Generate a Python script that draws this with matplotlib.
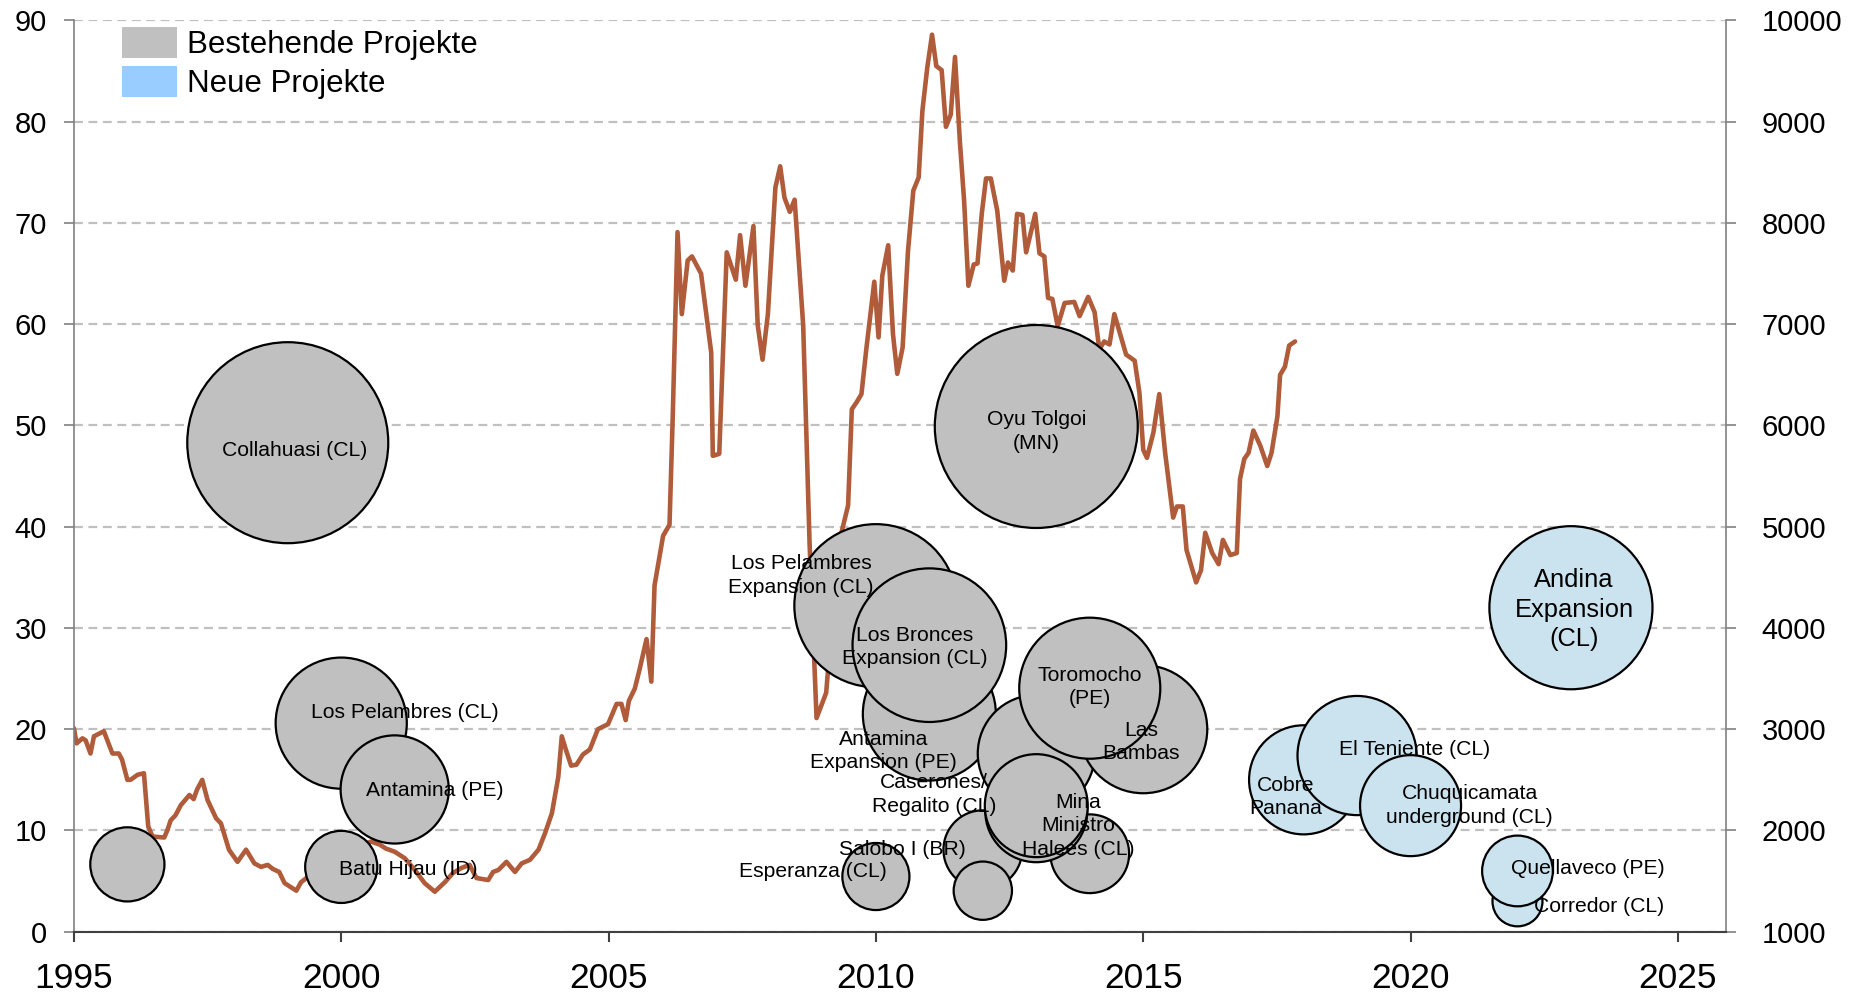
import matplotlib
matplotlib.use("Agg")
import matplotlib.pyplot as plt
from matplotlib.patches import Patch
import numpy as np

plt.rcParams['font.family'] = ['Liberation Sans', 'DejaVu Sans']

# ---------------- data ----------------
# copper price (right axis, USD/t)
price_years = [
    1995.00, 1995.05, 1995.16, 1995.22, 1995.31, 1995.375, 1995.56, 1995.72, 1995.84, 1995.90,
    1996.00, 1996.06, 1996.19, 1996.31, 1996.39, 1996.47, 1996.69, 1996.75, 1996.81, 1996.90,
    1997.00, 1997.16, 1997.24, 1997.30, 1997.40, 1997.50, 1997.66, 1997.75, 1997.90, 1998.06,
    1998.22, 1998.375, 1998.50, 1998.625, 1998.72, 1998.84, 1998.94, 1999.16, 1999.25, 1999.375,
    1999.60, 1999.85, 2000.10, 2000.35, 2000.56, 2000.72, 2000.84, 2001.00, 2001.19, 2001.375,
    2001.56, 2001.75, 2001.94, 2002.09, 2002.25, 2002.40, 2002.53, 2002.75, 2002.84, 2002.94,
    2003.09, 2003.25, 2003.375, 2003.53, 2003.69, 2003.81, 2003.94, 2004.06, 2004.125, 2004.20,
    2004.30, 2004.40, 2004.52, 2004.65, 2004.80, 2004.99, 2005.15, 2005.24, 2005.32, 2005.38,
    2005.49, 2005.58, 2005.71, 2005.80, 2005.86, 2006.02, 2006.14, 2006.20, 2006.29, 2006.37,
    2006.48, 2006.56, 2006.73, 2006.92, 2006.95, 2007.07, 2007.21, 2007.38, 2007.46, 2007.56,
    2007.71, 2007.79, 2007.88, 2007.98, 2008.12, 2008.21, 2008.29, 2008.39, 2008.48, 2008.64,
    2008.76, 2008.89, 2009.07, 2009.14, 2009.25, 2009.36, 2009.48, 2009.55, 2009.64, 2009.73,
    2009.82, 2009.97, 2010.05, 2010.12, 2010.23, 2010.32, 2010.40, 2010.50, 2010.60, 2010.70,
    2010.80, 2010.87, 2010.96, 2011.05, 2011.13, 2011.23, 2011.31, 2011.40, 2011.48, 2011.57,
    2011.65, 2011.73, 2011.83, 2011.90, 2011.98, 2012.06, 2012.15, 2012.27, 2012.40, 2012.47,
    2012.56, 2012.64, 2012.74, 2012.81, 2012.98, 2013.06, 2013.15, 2013.22, 2013.30, 2013.40,
    2013.53, 2013.71, 2013.81, 2013.97, 2014.09, 2014.18, 2014.27, 2014.37, 2014.46, 2014.68,
    2014.84, 2014.93, 2015.00, 2015.07, 2015.19, 2015.30, 2015.41, 2015.56, 2015.63, 2015.74,
    2015.81, 2015.99, 2016.08, 2016.16, 2016.29, 2016.41, 2016.49, 2016.63, 2016.75, 2016.81,
    2016.89, 2016.97, 2017.06, 2017.19, 2017.32, 2017.40, 2017.51, 2017.56, 2017.65, 2017.73,
    2017.84,
]
price_usd = [
    3010, 2860, 2910, 2890, 2760, 2930, 2980, 2760, 2760, 2700,
    2500, 2500, 2550, 2565, 2040, 1940, 1930, 2005, 2100, 2150,
    2250, 2350, 2310, 2400, 2500, 2300, 2120, 2070, 1810, 1690,
    1810, 1675, 1640, 1660, 1620, 1590, 1480, 1405, 1490, 1540,
    1650, 1750, 1830, 1850, 1890, 1860, 1820, 1790, 1725, 1610,
    1480, 1395, 1490, 1580, 1630, 1660, 1530, 1510, 1590, 1610,
    1690, 1590, 1675, 1710, 1810, 1970, 2170, 2530, 2930, 2800,
    2640, 2650, 2750, 2800, 3000, 3050, 3250, 3250, 3090, 3280,
    3400, 3590, 3890, 3470, 4420, 4910, 5020, 6080, 7910, 7100,
    7630, 7670, 7500, 6720, 5700, 5720, 7710, 7440, 7880, 7380,
    7970, 6990, 6650, 7100, 8350, 8560, 8250, 8110, 8230, 6990,
    4830, 3110, 3360, 3810, 4400, 4950, 5210, 6160, 6230, 6310,
    6750, 7420, 6870, 7480, 7780, 6900, 6510, 6770, 7720, 8320,
    8450, 9110, 9530, 9860, 9550, 9510, 8950, 9070, 9640, 8810,
    8220, 7380, 7590, 7600, 8090, 8440, 8440, 8120, 7430, 7610,
    7530, 8090, 8080, 7710, 8090, 7700, 7670, 7260, 7250, 6980,
    7210, 7220, 7080, 7270, 7120, 6750, 6830, 6800, 7100, 6700,
    6640, 6320, 5760, 5680, 5930, 6310, 5730, 5090, 5200, 5200,
    4770, 4450, 4570, 4940, 4740, 4630, 4870, 4720, 4740, 5470,
    5670, 5730, 5950, 5800, 5600, 5730, 6090, 6500, 6580, 6790,
    6830,
]

# projects (bubbles, left axis) -- order = drawing order
project_names = [
    "", "Collahuasi (CL)", "Los Pelambres (CL)", "Antamina (PE)", "Batu Hijau (ID)",
    "Esperanza (CL)", "Los Pelambres\nExpansion (CL)", "Antamina\nExpansion (PE)",
    "Los Bronces\nExpansion (CL)", "Salobo I (BR)", "", "Oyu Tolgoi\n(MN)",
    "Caserones/\nRegalito (CL)", "Las\nBambas", "Toromocho\n(PE)", "", "",
    "Mina\nMinistro\nHalees (CL)",
    "Cobre\nPanana", "El Teniente (CL)", "Chuquicamata\nunderground (CL)",
    "Corredor (CL)", "Quellaveco (PE)", "Andina\nExpansion\n(CL)",
]
project_years = [
    1996, 1999, 2000, 2001, 2000,
    2010, 2010, 2011,
    2011, 2012, 2012, 2013,
    2013, 2015, 2014, 2014, 2013,
    2013,
    2018, 2019, 2020,
    2022, 2022, 2023,
]
project_values = [
    6.65, 48.3, 20.6, 14.05, 6.4,
    5.45, 32.2, 21.5,
    28.3, 8.1, 4.05, 49.9,
    17.6, 20.0, 24.05, 7.7, 11.9,
    12.45,
    15.0, 17.4, 12.45,
    3.0, 6.0, 32.0,
]
project_sizes = [
    55, 404, 172, 117, 52,
    45, 266, 177,
    236, 62, 34, 412,
    137, 164, 199, 62, 104,
    106,
    119, 142, 102,
    25, 50, 266,
]
project_new = [
    False, False, False, False, False,
    False, False, False,
    False, False, False, False,
    False, False, False, False, False,
    False,
    True, True, True,
    True, True, True,
]

# label offsets from bubble centre (pixels, +x right, +y down) -- layout only
label_offsets = [
    (0, 0), (7, 8), (64, -11), (40, 1), (67, 3),
    (-63, -5), (-75, -30), (-46, 37),
    (-15, 2), (-80, 0), (0, 0), (0, 5),
    (-102, 41), (-2, 13), (0, -1), (0, 0), (0, 0),
    (42, 20),
    (-18, 17), (57, -6), (59, 0),
    (82, 5), (70, -2), (3, 2),
]

# ---------------- figure ----------------
W, H, DPI = 1868, 994, 100
fig = plt.figure(figsize=(W / DPI, H / DPI), dpi=DPI)
ax = fig.add_axes([73.9 / W, 1 - 931.7 / H, (1726 - 73.9) / W, (931.7 - 20.5) / H])
ax2 = ax.twinx()
ax.set_zorder(ax2.get_zorder() + 1)
ax.patch.set_visible(False)

# line (right axis)
ax2.plot(price_years, price_usd, color='#B05C3A', lw=3.3,
         solid_joinstyle='round', solid_capstyle='round', zorder=3)
ax2.set_ylim(1000, 10000)
ax2.set_yticks(range(1000, 10001, 1000))
ax2.grid(axis='y', color='#C0C0C0', linestyle=(0, (4, 2.5)), lw=1.6)
ax2.set_axisbelow(True)

# bubbles (left axis)
px2pt = 72.0 / DPI
sizes_pts = [(10 * np.sqrt(s) * px2pt) ** 2 for s in project_sizes]
colors = ['#CBE3EF' if n else '#C0C0C0' for n in project_new]
ax.scatter(project_years, project_values, s=sizes_pts, c=colors,
           edgecolors='black', linewidths=1.6, zorder=4)

for name, xv, yv, off, new in zip(project_names, project_years, project_values,
                                  label_offsets, project_new):
    if not name:
        continue
    fs = 18.4 if name.startswith("Andina") else 15.2
    ax.annotate(name, (xv, yv), xytext=(off[0] * px2pt, -off[1] * px2pt),
                textcoords='offset points', ha='center', va='center',
                fontsize=fs, color='black', zorder=6, linespacing=1.3)

ax.set_xlim(1995, 2025.9)
ax.set_ylim(0, 90)
ax.set_yticks(range(0, 91, 10))
ax.set_xticks(range(1995, 2026, 5))

# spines & ticks
for s in ['top', 'right']:
    ax.spines[s].set_visible(False)
for s in ['top', 'left', 'bottom']:
    ax2.spines[s].set_visible(False)
ax.spines['left'].set_color('#808080')
ax.spines['left'].set_linewidth(1.2)
ax.spines['bottom'].set_color('#404040')
ax.spines['bottom'].set_linewidth(1.5)
ax2.spines['right'].set_color('#808080')
ax2.spines['right'].set_linewidth(1.2)

ax.tick_params(axis='y', direction='out', length=7.5, width=1.2, color='#808080',
               labelsize=21, pad=12)
ax.tick_params(axis='x', direction='out', length=7.5, width=1.5, color='#404040',
               labelsize=25.5, pad=14)
ax2.tick_params(axis='y', direction='out', length=7.5, width=1.2, color='#808080',
                labelsize=21, pad=18)

# legend
handles = [Patch(facecolor='#C0C0C0', edgecolor='none', label='Bestehende Projekte'),
           Patch(facecolor='#99CCFF', edgecolor='none', label='Neue Projekte')]
ax.legend(handles=handles, loc='upper left', bbox_to_anchor=(121.5 / W, 1 - 27 / H),
          bbox_transform=fig.transFigure, frameon=False, fontsize=22.5,
          handlelength=1.76, handleheight=1.15, handletextpad=0.35,
          labelspacing=0.2, borderpad=0, borderaxespad=0)

fig.savefig('out.png', dpi=DPI)
